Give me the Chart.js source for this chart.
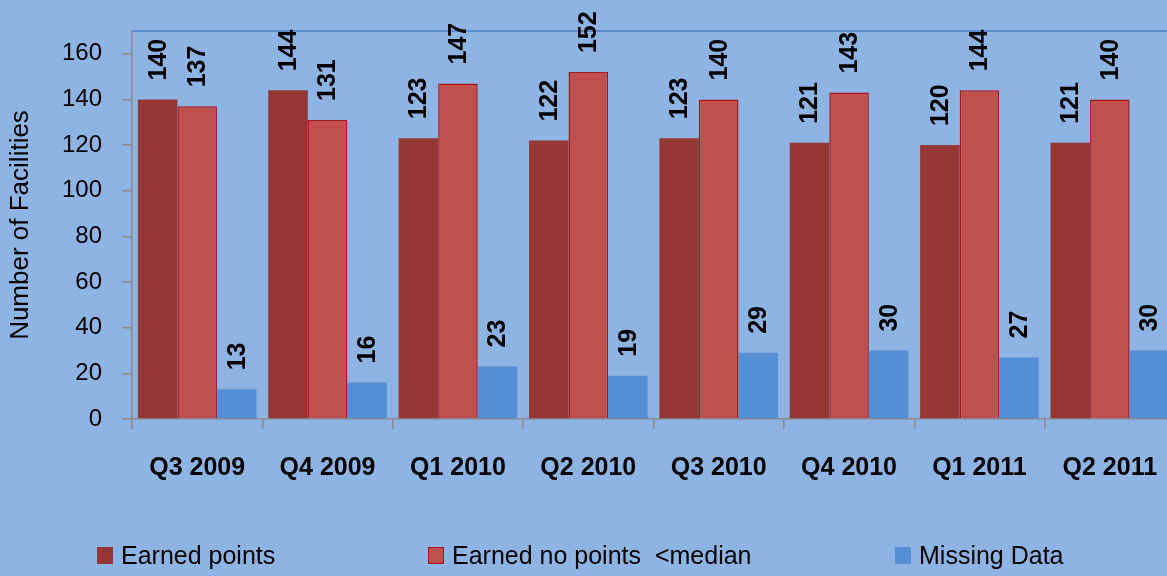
<!DOCTYPE html>
<html lang="en">
<head>
    <meta charset="UTF-8">
    <title>Number of Facilities by Quarter</title>
    <script src="https://cdn.jsdelivr.net/npm/chart.js@4.4.1/dist/chart.umd.min.js"></script>
    <style>
        html, body { margin: 0; padding: 0; background: #8EB4E3; overflow: hidden; }
        canvas { display: block; }
    </style>
</head>
<body>
    <canvas id="barChart" width="1175" height="576"></canvas>

    <script>
        // Data
        const quarters = ['Q3 2009', 'Q4 2009', 'Q1 2010', 'Q2 2010', 'Q3 2010', 'Q4 2010', 'Q1 2011', 'Q2 2011'];
        const earnedPoints = [140, 144, 123, 122, 123, 121, 120, 121];
        const earnedNoPoints = [137, 131, 147, 152, 140, 143, 144, 140];
        const missingData = [13, 16, 23, 19, 29, 30, 27, 30];
        const seriesNames = ['Earned points', 'Earned no points  <median', 'Missing Data'];
        const yTicks = [0, 20, 40, 60, 80, 100, 120, 140, 160];

        const axisGray = '#8A8A8A';
        const fontFamily = '"Liberation Sans", Arial, sans-serif';

        // blue top border of the plot area, drawn under the bars and labels
        const topFrame = {
            id: 'topFrame',
            beforeDatasetsDraw(chart) {
                const ctx = chart.ctx;
                const a = chart.chartArea;
                ctx.save();
                ctx.strokeStyle = '#5B8FD2';
                ctx.lineWidth = 2;
                ctx.beginPath();
                ctx.moveTo(a.left, a.top);
                ctx.lineTo(chart.width, a.top);
                ctx.stroke();
                ctx.restore();
            }
        };

        // value labels, rotated, above each bar
        const barLabels = {
            id: 'barLabels',
            afterDatasetsDraw(chart) {
                const ctx = chart.ctx;
                ctx.save();
                ctx.fillStyle = '#000';
                ctx.font = 'bold 25px ' + fontFamily;
                ctx.textAlign = 'left';
                ctx.textBaseline = 'middle';
                chart.data.datasets.forEach((ds, i) => {
                    chart.getDatasetMeta(i).data.forEach((bar, j) => {
                        ctx.save();
                        ctx.translate(bar.x + 1, bar.y - 19);
                        ctx.rotate(-Math.PI / 2);
                        ctx.fillText(String(ds.data[j]), 0, 0);
                        ctx.restore();
                    });
                });
                ctx.restore();
            }
        };

        // legend spread across the bottom, like the original
        const wideLegend = {
            id: 'wideLegend',
            afterDraw(chart) {
                const ctx = chart.ctx;
                const starts = [97, 428, 895];
                ctx.save();
                ctx.font = '25px ' + fontFamily;
                ctx.textBaseline = 'middle';
                ctx.textAlign = 'left';
                chart.data.datasets.forEach((ds, i) => {
                    const x = starts[i], y = 556;
                    ctx.fillStyle = ds.backgroundColor;
                    ctx.fillRect(x, y - 9, 16, 17);
                    if (ds.borderWidth) {
                        ctx.strokeStyle = ds.borderColor;
                        ctx.lineWidth = 1;
                        ctx.strokeRect(x + 0.5, y - 8.5, 15, 16);
                    }
                    ctx.fillStyle = '#000';
                    ctx.fillText(ds.label, x + 24, y + 1);
                });
                ctx.restore();
            }
        };

        new Chart(document.getElementById('barChart').getContext('2d'), {
            type: 'bar',
            data: {
                labels: quarters,
                datasets: [{
                    label: seriesNames[0],
                    data: earnedPoints,
                    backgroundColor: '#953735',
                    borderWidth: 0
                }, {
                    label: seriesNames[1],
                    data: earnedNoPoints,
                    backgroundColor: '#C0504D',
                    borderColor: '#A8161A',
                    borderWidth: 1.5
                }, {
                    label: seriesNames[2],
                    data: missingData,
                    backgroundColor: '#558ED5',
                    borderWidth: 0
                }]
            },
            options: {
                responsive: false,
                animation: false,
                layout: { padding: { top: 31, left: 0, right: 0, bottom: 0 } },
                datasets: { bar: { categoryPercentage: 0.91, barPercentage: 1.0 } },
                plugins: {
                    legend: { display: false },
                    tooltip: { enabled: false }
                },
                scales: {
                    x: {
                        grid: { drawOnChartArea: false, drawTicks: true, tickLength: 10, color: axisGray, lineWidth: 1.5 },
                        border: { display: true, color: axisGray, width: 1.5 },
                        ticks: { color: '#000', padding: 24, font: { family: fontFamily, size: 25, weight: 'bold' }, maxRotation: 0 },
                        afterFit(scale) {
                            scale.height = 157;
                            scale.paddingLeft = 0;
                            scale.paddingRight = 0;
                        }
                    },
                    y: {
                        min: 0,
                        max: 170,
                        grid: { drawOnChartArea: false, drawTicks: true, tickLength: 10, color: axisGray, lineWidth: 1.5 },
                        border: { display: true, color: axisGray, width: 1.5 },
                        ticks: { color: '#000', padding: 20, font: { family: fontFamily, size: 24 } },
                        afterBuildTicks(scale) { scale.ticks = yTicks.map(v => ({ value: v })); },
                        title: {
                            display: true,
                            text: 'Number of Facilities',
                            color: '#000',
                            font: { family: fontFamily, size: 26, lineHeight: 1 },
                            padding: { top: 8, bottom: 0 }
                        },
                        afterFit(scale) {
                            scale.width = 132;
                            scale.paddingTop = 0;
                            scale.paddingBottom = 0;
                        }
                    }
                }
            },
            plugins: [topFrame, barLabels, wideLegend]
        });
    </script>
</body>
</html>
